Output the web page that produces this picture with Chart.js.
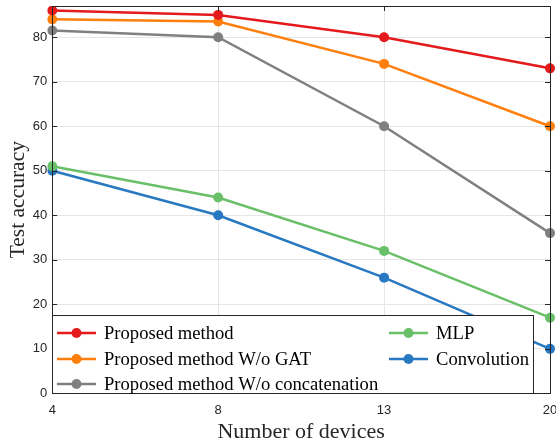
<html>
<head>
<script src="https://cdn.jsdelivr.net/npm/chart.js@4.4.1/dist/chart.umd.min.js"></script>
<style>
body { margin: 0; overflow: hidden; background: #ffffff; }
#wrap { width: 556px; height: 445px; overflow: hidden; }
</style>
</head>
<body>
<div id="wrap">
<canvas id="accChart" width="572" height="445"></canvas>
</div>
<script>
// x categories (number of devices)
var devices = ["4", "8", "13", "20"];
var yTicks = [0, 10, 20, 30, 40, 50, 60, 70, 80];

var seriesNames = [
  "Proposed method",
  "Proposed method W/o GAT",
  "Proposed method W/o concatenation",
  "MLP",
  "Convolution"
];
var proposed = [86, 85, 80, 73];
var noGat = [84, 83.5, 74, 60];
var noConcat = [81.5, 80, 60, 36];
var mlp = [51, 44, 32, 17];
var conv = [50, 40, 26, 10];

var colors = ["#e41a1c", "#ff7f0e", "#808080", "#6abf69", "#2879c2"];

function mkSet(i, vals) {
  return {
    label: seriesNames[i],
    data: vals,
    borderColor: colors[i],
    backgroundColor: colors[i],
    borderWidth: 2.5,
    pointRadius: 5,
    pointHoverRadius: 5,
    pointBorderWidth: 0,
    tension: 0
  };
}

// matlab style box + inward ticks
var boxPlugin = {
  id: 'boxPlugin',
  afterDatasetsDraw: function(chart) {
    var ctx = chart.ctx, a = chart.chartArea;
    var xs = chart.scales.x, ys = chart.scales.y;
    ctx.save();
    ctx.strokeStyle = '#262626';
    ctx.lineWidth = 1;
    ctx.beginPath();
    for (var i = 0; i < devices.length; i++) {
      var px = Math.round(xs.getPixelForValue(i)) + 0.5;
      ctx.moveTo(px, a.top); ctx.lineTo(px, a.top + 5);
      ctx.moveTo(px, a.bottom); ctx.lineTo(px, a.bottom - 5);
    }
    for (var j = 0; j < yTicks.length; j++) {
      var py = Math.round(ys.getPixelForValue(yTicks[j])) + 0.5;
      ctx.moveTo(a.left, py); ctx.lineTo(a.left + 5, py);
      ctx.moveTo(a.right, py); ctx.lineTo(a.right - 5, py);
    }
    ctx.stroke();
    ctx.strokeRect(Math.round(a.left) + 0.5, Math.round(a.top) + 0.5,
      Math.round(a.right - a.left), Math.round(a.bottom - a.top));
    ctx.restore();
  }
};

// two column legend box inside the plot, lower left
var legendPlugin = {
  id: 'legendBox',
  afterDraw: function(chart) {
    var ctx = chart.ctx, a = chart.chartArea;
    var x0 = a.left, y1 = a.bottom, x1 = 534, y0 = 315;
    ctx.save();
    ctx.fillStyle = '#ffffff';
    ctx.fillRect(x0, y0, x1 - x0, y1 - y0);
    ctx.strokeStyle = '#262626';
    ctx.lineWidth = 1;
    ctx.strokeRect(Math.round(x0) + 0.5, y0 + 0.5, x1 - Math.round(x0) - 1, Math.round(y1) - y0);
    var cols = [57, 389];
    var rows = [333, 359, 384];
    var pos = [[0, 0], [0, 1], [0, 2], [1, 0], [1, 1]];
    ctx.font = '18.6px "Liberation Serif", "Times New Roman", serif';
    ctx.textBaseline = 'middle';
    for (var i = 0; i < seriesNames.length; i++) {
      var lx = cols[pos[i][0]], ly = rows[pos[i][1]];
      ctx.strokeStyle = colors[i];
      ctx.lineWidth = 2.5;
      ctx.beginPath();
      ctx.moveTo(lx, ly); ctx.lineTo(lx + 39, ly);
      ctx.stroke();
      ctx.fillStyle = colors[i];
      ctx.beginPath();
      ctx.arc(lx + 19.5, ly, 5, 0, Math.PI * 2);
      ctx.fill();
      ctx.fillStyle = '#000000';
      ctx.fillText(seriesNames[i], lx + 47, ly + 1);
    }
    ctx.restore();
  }
};

var ctxA = document.getElementById('accChart').getContext('2d');
var accChart = new Chart(ctxA, {
  type: 'line',
  data: {
    labels: devices,
    datasets: [mkSet(0, proposed), mkSet(1, noGat), mkSet(2, noConcat), mkSet(3, mlp), mkSet(4, conv)]
  },
  plugins: [boxPlugin, legendPlugin],
  options: {
    responsive: false,
    animation: false,
    layout: { padding: { top: 6, right: 22, left: 5, bottom: 0 } },
    plugins: {
      legend: { display: false },
      tooltip: { enabled: false }
    },
    scales: {
      x: {
        offset: false,
        afterFit: function(scale) { scale.paddingLeft = 0; scale.paddingRight = 0; scale.height -= 6; },
        grid: { color: '#e6e6e6', drawTicks: false },
        border: { display: false },
        ticks: { color: '#262626', padding: 9, maxRotation: 0, font: { family: '"Liberation Sans", Arial, sans-serif', size: 13 } },
        title: { display: true, text: 'Number of devices', color: '#262626', padding: { top: 0, bottom: 2 },
          font: { family: '"Liberation Serif", "Times New Roman", serif', size: 22, lineHeight: 1 } }
      },
      y: {
        min: 0,
        max: 87,
        afterBuildTicks: function(scale) {
          scale.ticks = yTicks.map(function(v) { return { value: v }; });
        },
        afterFit: function(scale) { scale.paddingTop = 0; scale.paddingBottom = 0; scale.width -= 5; },
        grid: { color: '#e6e6e6', drawTicks: false },
        border: { display: false },
        ticks: { color: '#262626', padding: 5, font: { family: '"Liberation Sans", Arial, sans-serif', size: 13 } },
        title: { display: true, text: 'Test accuracy', color: '#262626', padding: { top: 0, bottom: 2 },
          font: { family: '"Liberation Serif", "Times New Roman", serif', size: 21.5 } }
      }
    }
  }
});
</script>
</body>
</html>
